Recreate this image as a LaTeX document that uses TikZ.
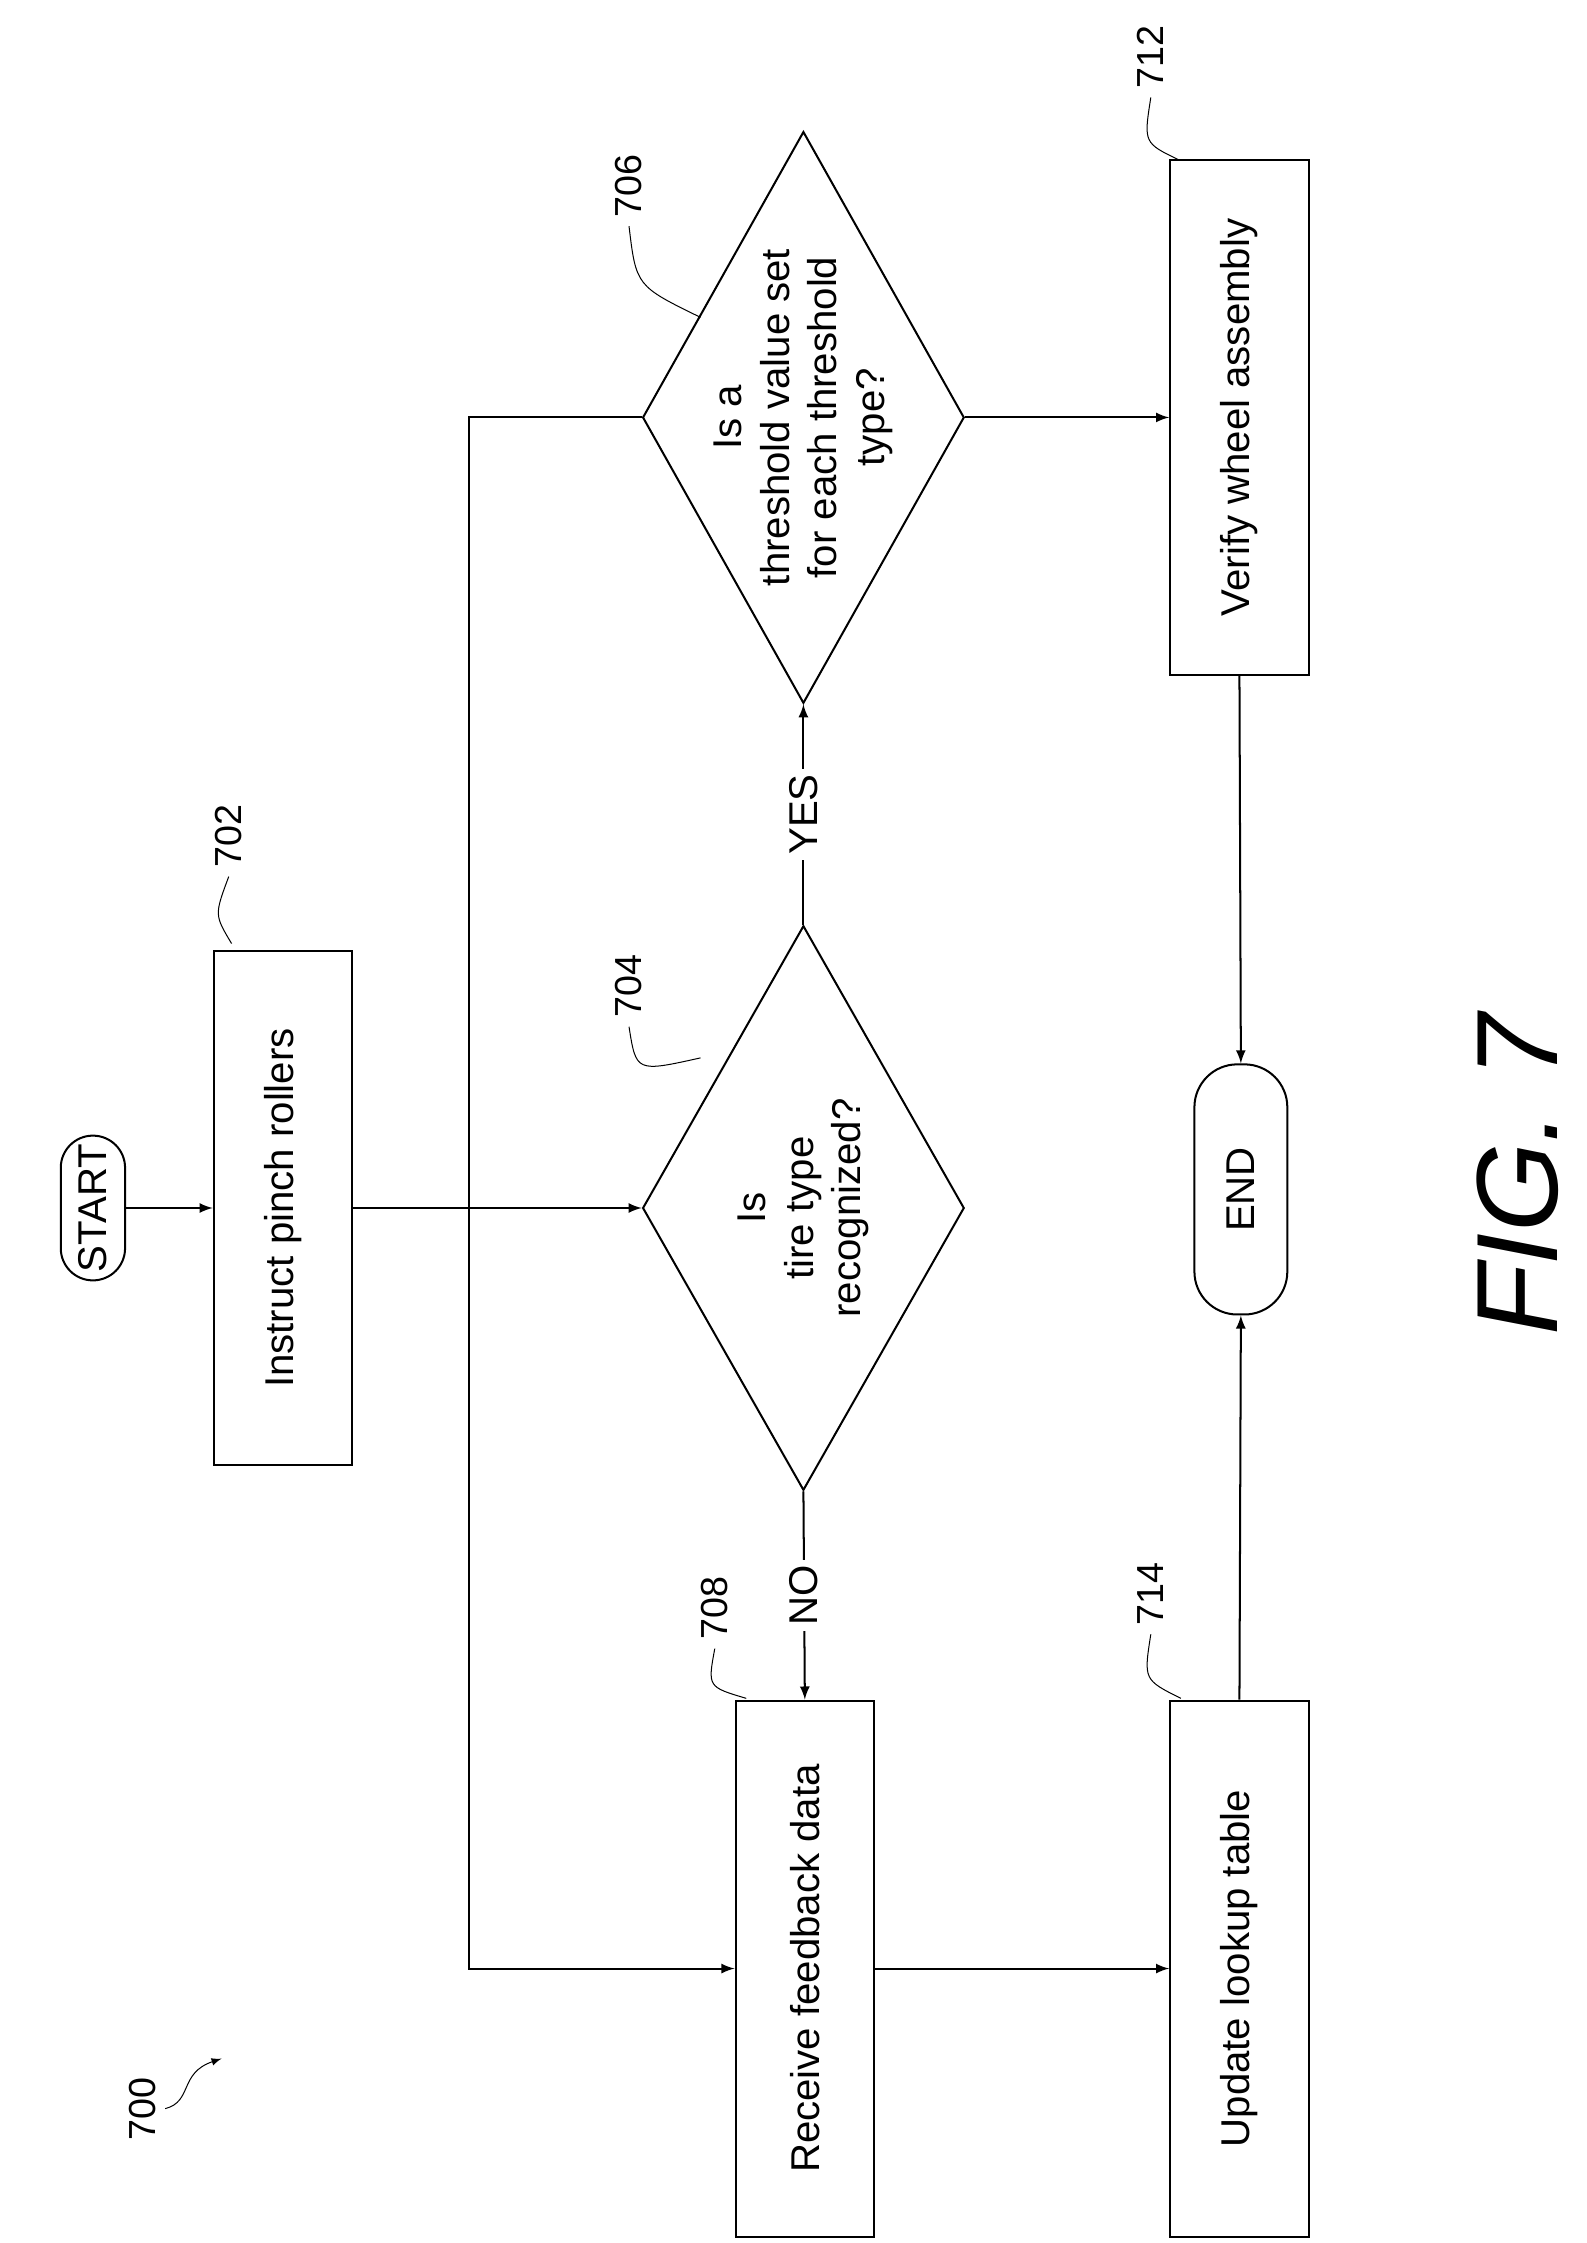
\documentclass[tikz,border=0pt]{standalone}
\usepackage{fontspec}
\setmainfont{Liberation Sans}
\usetikzlibrary{shapes.geometric}
\begin{document}
\begin{tikzpicture}[x=0.02cm,y=-0.02cm,
	font=\fontsize{16}{19}\selectfont,
	box/.style={draw,thick,rectangle,rotate=90,minimum height=1.94cm,align=center},
	term/.style={draw,thick,rectangle,rotate=90,rounded corners=0.45cm,minimum height=0.9cm},
	dec/.style={draw,thick,diamond,rotate=90,minimum width=7.9cm,minimum height=4.5cm,inner sep=0pt},
	dectext/.style={rotate=90,align=center},
	ref/.style={rotate=90,font=\fontsize{15}{18}\selectfont},
	arr/.style={thick,-latex}]
	\useasboundingbox (0,0) rectangle (1110,1569);
	
	% Schritte
	\node[term,minimum width=1.8cm] (start) at (65,845) {START};
	\node[box,minimum width=7.2cm] (instr) at (198,845) {Instruct pinch rollers};
	\node[dec] (q704) at (562,845) {};
	\node[dectext] at (q704) {Is\\tire type\\recognized?};
	\node[dec,minimum width=8cm] (q706) at (562,292) {};
	\node[dectext] at (q706) {Is a\\threshold value set\\for each threshold\\type?};
	\node[box,minimum width=7.5cm] (recv) at (563,1377) {Receive feedback data};
	\node[box,minimum width=7.2cm] (verify) at (867,292) {Verify wheel assembly};
	\node[term,minimum width=3.5cm,minimum height=1.3cm,rounded corners=0.6cm] (endn) at (868,832) {END};
	\node[box,minimum width=7.5cm] (update) at (867,1377) {Update lookup table};
	\coordinate (bend) at (328,292);
	
	% Verbindungen
	\draw[arr] (start.south) -- (instr.north);
	\draw[arr] (instr.south) -- (q704.north);
	\draw[arr] (q704.west) -- node[fill=white,rotate=90,inner sep=2pt] {NO} (recv.east);
	\draw[arr] (q704.east) -- node[fill=white,rotate=90,inner sep=2pt] {YES} (q706.west);
	\draw[arr] (q706.north) -- (bend) |- (recv.north);
	\draw[arr] (q706.south) -- (verify.north);
	\draw[arr] (verify.west) -- (endn.east);
	\draw[arr] (recv.south) -- (update.north);
	\draw[arr] (update.east) -- (endn.west);
	
	% Bezugszeichen
	\node[ref] (l702) at (160,585) {702};
	\draw[thin] (l702.west) .. controls (150,640) .. (162,660);
	\node[ref] (l704) at (440,690) {704};
	\draw[thin] (l704.west) .. controls (445,750) .. (490,740);
	\node[ref] (l706) at (440,130) {706};
	\draw[thin] (l706.west) .. controls (445,200) .. (490,222);
	\node[ref] (l708) at (500,1125) {708};
	\draw[thin] (l708.west) .. controls (495,1180) .. (522,1188);
	\node[ref] (l714) at (805,1115) {714};
	\draw[thin] (l714.west) .. controls (800,1175) .. (826,1188);
	\node[ref] (l712) at (805,40) {712};
	\draw[thin] (l712.west) .. controls (800,100) .. (825,112);
	\node[ref] (l700) at (100,1475) {700};
	\draw[thin,-latex] (l700.south) .. controls (135,1470) and (125,1450) .. (155,1440);
	
	\node[rotate=90,font=\fontsize{46}{50}\itshape] (fig) at (1062,822) {FIG. 7};
\end{tikzpicture}
\end{document}
